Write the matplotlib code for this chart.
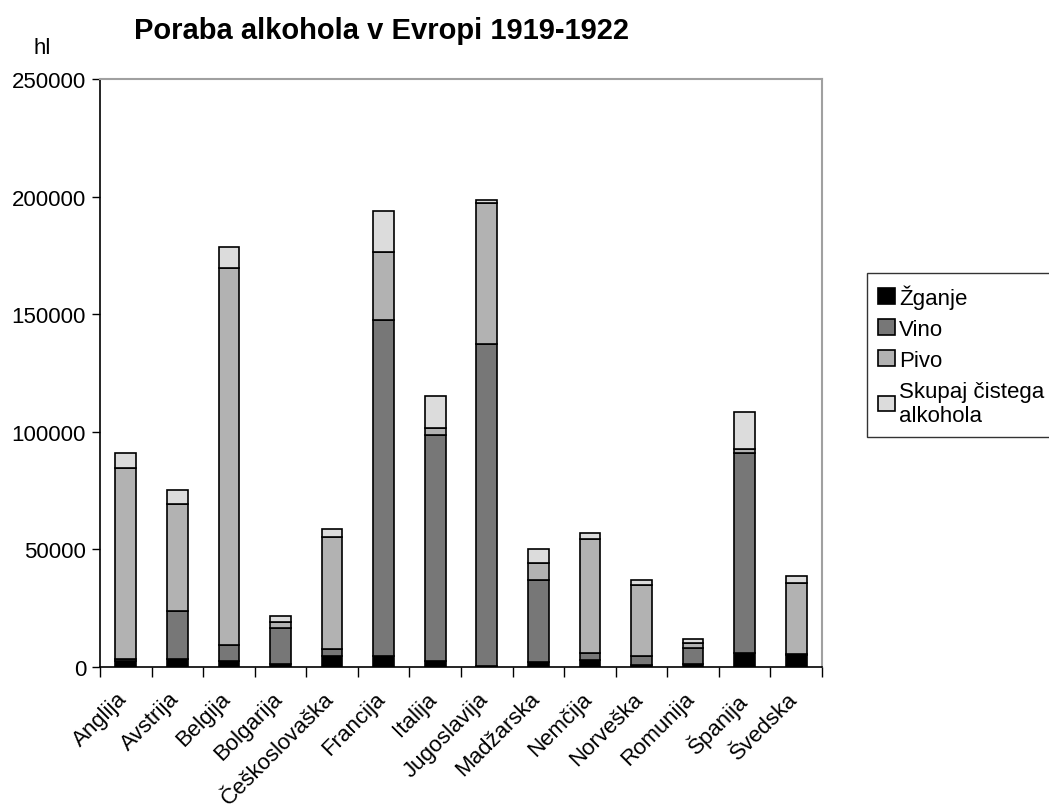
"""Poraba alkohola v Evropi 1919-1922 - stacked bars."""

import matplotlib
matplotlib.use("Agg")
import matplotlib.pyplot as plt
import matplotlib.transforms as mtransforms
import numpy as np

plt.rcParams["font.family"] = ["Liberation Sans", "DejaVu Sans"]

countries = ["Anglija", "Avstrija", "Belgija", "Bolgarija", "Češkoslovaška",
             "Francija", "Italija", "Jugoslavija", "Madžarska", "Nemčija",
             "Norveška", "Romunija", "Španija", "Švedska"]
zganje = [2400, 3500, 2400, 1300, 4800, 4800, 2400, 500, 2100, 2800, 1000, 1300, 6100, 5100]
vino = [1100, 20300, 7100, 15300, 3000, 142700, 96100, 136700, 35100, 3000, 3500, 6900, 85000, 300]
pivo = [81200, 45500, 160300, 2700, 47600, 28800, 3100, 60200, 7000, 48500, 30400, 2000, 1600, 30400]
skupaj = [6100, 5800, 8900, 2400, 3300, 17400, 13600, 1300, 6000, 2700, 1900, 1500, 15800, 3100]

series = [
    ("Žganje", zganje, "#000000"),
    ("Vino", vino, "#777777"),
    ("Pivo", pivo, "#b2b2b2"),
    ("Skupaj čistega\nalkohola", skupaj, "#dcdcdc"),
]

fig = plt.figure(figsize=(10.49, 8.12), dpi=100)
ax = fig.add_axes([100 / 1049, 1 - 668 / 812, 722 / 1049, 588 / 812])

x = np.arange(len(countries))
bottom = np.zeros(len(countries))
handles = []
for label, vals, color in series:
    b = ax.bar(x, vals, 0.4, bottom=bottom, color=color, edgecolor="black",
               linewidth=1.2, label=label)
    handles.append(b)
    bottom += np.array(vals)

ax.set_xlim(-0.5, len(countries) - 0.5)
ax.set_ylim(0, 250000)
ax.set_yticks(np.arange(0, 250001, 50000))
ax.tick_params(axis="y", labelsize=16, length=6, direction="out", width=1, pad=4)

ax.set_xticks(x)
ax.set_xticklabels(countries, rotation=45, ha="right", rotation_mode="anchor",
                   fontsize=16)
ax.tick_params(axis="x", length=0, pad=10)
ax.set_xticks(np.arange(-0.5, len(countries), 1), minor=True)
ax.tick_params(axis="x", which="minor", length=7, width=1, direction="out")
shift = mtransforms.ScaledTranslation(-0.09, -0.07, fig.dpi_scale_trans)
for lbl in ax.get_xticklabels():
    lbl.set_transform(lbl.get_transform() + shift)

for side in ("top", "right"):
    ax.spines[side].set_color("#a0a0a0")
    ax.spines[side].set_linewidth(1.5)
for side in ("left", "bottom"):
    ax.spines[side].set_linewidth(1.2)

fig.text(381 / 1049, 1 - 31 / 812, "Poraba alkohola v Evropi 1919-1922",
         ha="center", va="center", fontsize=21, fontweight="bold")
fig.text(42 / 1049, 1 - 48 / 812, "hl", ha="center", va="center", fontsize=16)

leg = fig.legend(handles=handles, loc="upper left",
                 bbox_to_anchor=(867 / 1049, 1 - 274 / 812), fontsize=16,
                 frameon=True, fancybox=False, handlelength=0.75,
                 handleheight=0.7, handletextpad=0.2, borderpad=0.5,
                 labelspacing=0.45, borderaxespad=0)
for t in leg.get_texts():
    t.set_linespacing(1.2)
leg.get_frame().set_edgecolor("black")
leg.get_frame().set_linewidth(1)

fig.savefig("out.png", dpi=100)
